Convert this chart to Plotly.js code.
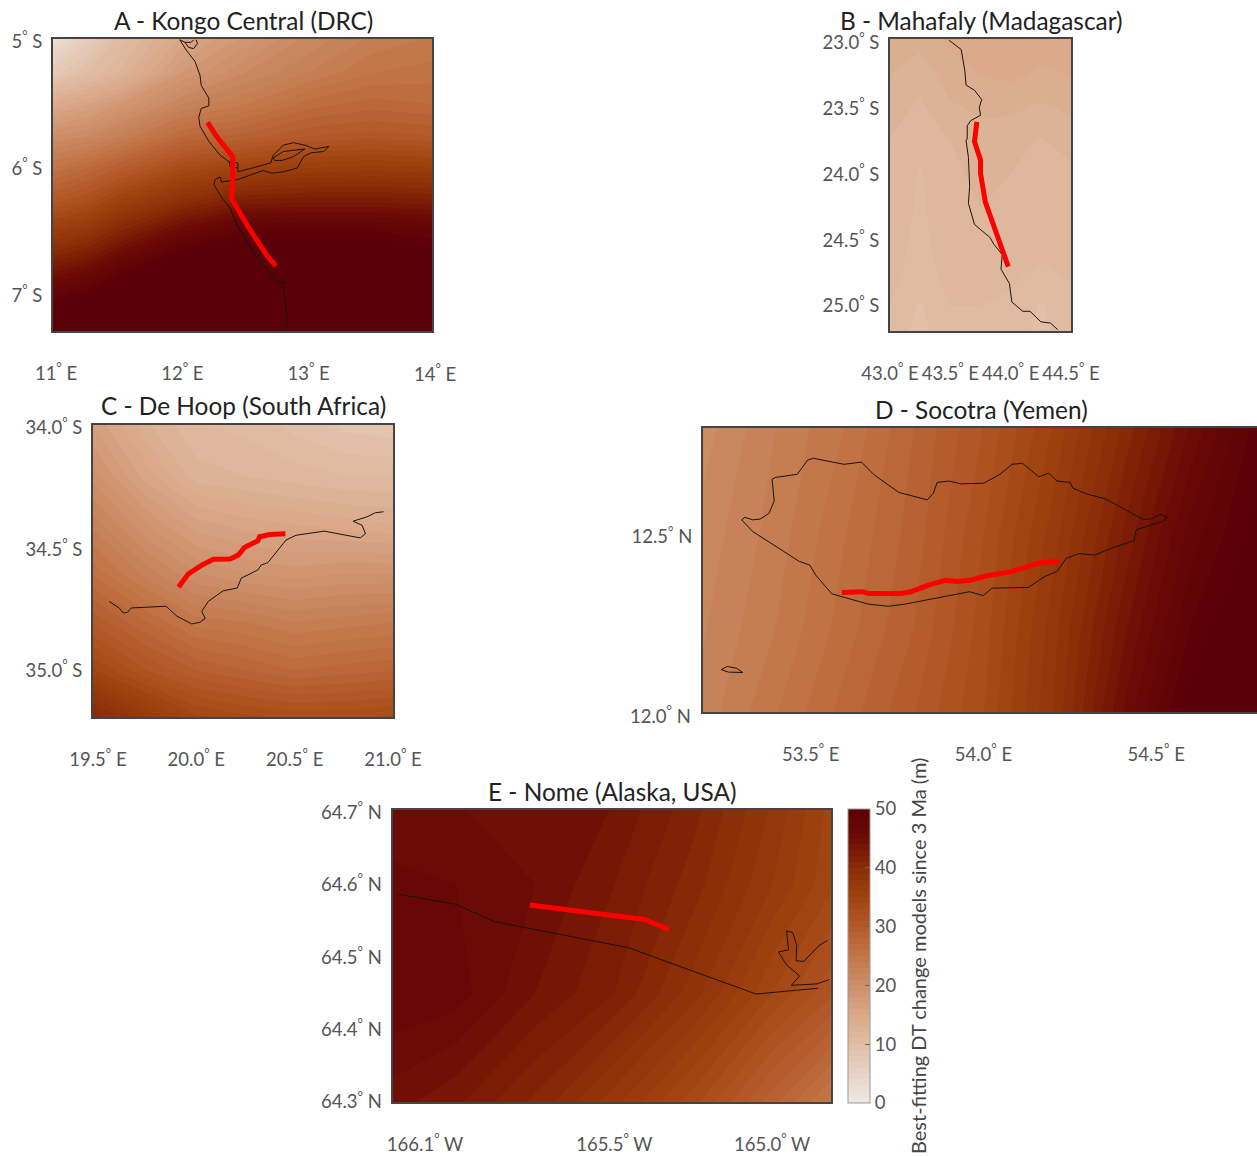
<!DOCTYPE html>
<html><head><meta charset="utf-8">
<script src="https://cdn.plot.ly/plotly-3.0.1.min.js"></script>
<style>html,body{margin:0;padding:0;background:#fff;overflow:hidden}</style>
</head><body><div id="chart" style="width:1257px;height:1156px"></div>
<script>
const colorStops=[[0,'#efe9e4'],[0.1,'#e8d3c5'],[0.2,'#e1bda5'],[0.3,'#d9a888'],[0.4,'#cc8e69'],[0.5,'#c27648'],[0.6,'#b4592a'],[0.7,'#a0420f'],[0.8,'#8a2c06'],[0.9,'#6d0c05'],[1,'#5a0008']];
const cbTicks=[0,10,20,30,40,50];
const cbTitle='Best-fitting DT change models since 3 Ma (m)';

// A - Kongo Central
const titleA='A - Kongo Central (DRC)';
const gridLonA=[10.95,11.25,11.5,12,12.5,13,13.5,14.02];
const gridLatA=[-7.32,-7,-6.75,-6.5,-6.25,-6,-5.75,-5.5,-5.25,-4.95];
const zA=[
[54,55,55,56,56,56,56,56],
[48,50,53,55,55,55,55,54],
[42,44,47,52,54,54,53,52],
[36,38,41,46,49,49,49,48],
[30,32,35,39,42,42.5,42.5,42],
[25,27,29,33,35,36,36.5,36],
[20,21,23,27,28.5,30,30.5,30],
[14,16,18,22,24,26.5,27.5,27],
[7,10,12,18,21,23,25,25.5],
[1,6,10,15,18,21,23,24]];
const coastLonA=[11.98,12.01,12.03,12.10,12.14,12.15,12.21,12.21,12.15,12.13,12.14,12.21,12.30,12.37,12.38,12.44,12.44,12.37,null,
12.44,12.44,12.59,12.70,12.72,12.80,12.88,12.97,13.05,13.16,13.12,13.02,12.96,12.91,12.80,12.71,12.64,12.52,12.44,12.31,12.30,12.26,12.25,12.31,12.38,12.43,12.51,12.59,12.69,12.76,12.81,12.80,12.82,12.83,12.85,null,
12.72,12.80,12.97,12.88,12.79,12.73,12.72,null,
11.98,12.02,12.05,12.09,12.12,12.11,null,12.02,12.07,12.09];
const coastLatA=[-4.99,-5.04,-5.07,-5.16,-5.27,-5.35,-5.45,-5.51,-5.53,-5.60,-5.67,-5.79,-5.90,-5.95,-5.99,-6.00,-5.96,-5.95,null,
-6.00,-6.03,-5.99,-5.96,-5.90,-5.82,-5.80,-5.82,-5.85,-5.83,-5.87,-5.88,-5.91,-6.00,-6.03,-6.04,-6.02,-6.06,-6.09,-6.11,-6.07,-6.09,-6.13,-6.23,-6.32,-6.44,-6.58,-6.71,-6.82,-6.90,-6.90,-6.93,-7.09,-7.24,-7.27,null,
-5.92,-5.87,-5.85,-5.91,-5.94,-5.94,-5.92,null,
-4.99,-5.01,-5.05,-5.06,-5.02,-4.99,null,-5.01,-5.01,-4.99];
const redLonA=[12.20,12.27,12.40,12.40,12.39,12.46,12.52,12.67,12.74];
const redLatA=[-5.64,-5.75,-5.91,-6.07,-6.24,-6.36,-6.46,-6.69,-6.77];
const lonTicksA=[11,12,13], lonLabelsA=['11','12','13'];
const latTicksA=[-5,-6,-7], latLabelsA=['5','6','7'];

// B - Mahafaly
const titleB='B - Mahafaly (Madagascar)';
const gridLonB=[42.98,43.25,43.5,43.75,44,44.25,44.52];
const gridLatB=[-25.22,-25,-24.75,-24.5,-24.25,-24,-23.75,-23.5,-23.25,-22.95];
const zB=[
[10.5,9.7,10.6,10.7,10.5,9.8,10.5],
[11,9.9,11,11,10.8,9.9,10.6],
[11.5,10.4,11.5,11.5,11.2,10.8,11.2],
[11.7,10.6,11.8,11.8,11.6,11.4,11.6],
[11.8,10.8,11.8,12,11.8,11.2,11.6],
[11.8,10.9,11.9,12.1,12,11.6,11.8],
[12,11.2,12,12.6,12.3,11.9,12.4],
[12.5,11.8,12.8,13.2,13.2,12.8,13.2],
[13,12.3,13.6,14,14.2,13.8,14],
[13.5,13.5,14.2,14.5,14.7,14.6,14.6]];
const coastLonB=[43.49,43.59,43.62,43.63,43.70,43.76,43.74,43.75,43.67,43.64,43.64,43.63,43.65,43.66,43.65,43.70,43.83,43.86,43.93,43.92,43.99,44.01,44.10,44.16,44.25,44.33,44.39];
const coastLatB=[-22.98,-23.05,-23.21,-23.32,-23.36,-23.43,-23.49,-23.55,-23.59,-23.63,-23.73,-23.74,-23.87,-24.09,-24.22,-24.38,-24.48,-24.53,-24.61,-24.72,-24.83,-24.97,-25.04,-25.04,-25.12,-25.13,-25.18];
const redLonB=[43.72,43.70,43.75,43.75,43.79,43.86,43.93,43.98];
const redLatB=[-23.60,-23.75,-23.89,-23.99,-24.21,-24.39,-24.56,-24.70];
const lonTicksB=[43,43.5,44,44.5], lonLabelsB=['43.0','43.5','44.0','44.5'];
const latTicksB=[-23,-23.5,-24,-24.5,-25], latLabelsB=['23.0','23.5','24.0','24.5','25.0'];

// C - De Hoop
const titleC='C - De Hoop (South Africa)';
const gridLonC=[19.45,19.75,20,20.25,20.5,20.75,21.05];
const gridLatC=[-35.22,-35,-34.8,-34.6,-34.4,-34.2,-33.97];
const zC=[
[42,38,35,34,33.5,33.5,34],
[34.5,31,29,28,27,27.5,28],
[30,27,24.5,24,23,23.5,24],
[26,22.5,20,19,18.5,19,19],
[23,19,16.5,15.5,15,14.5,14],
[20,15.5,12.5,12,11.5,11,11],
[17,13,11,10.5,9.5,8.5,8]];
const coastLonC=[19.557,19.608,19.629,19.65,19.67,19.846,19.902,19.977,20.019,20.045,20.028,20.061,20.137,20.208,20.229,20.313,20.33,20.364,20.456,20.507,20.65,20.834,20.86,20.843,20.797,20.868,20.91,20.952];
const coastLatC=[-34.716,-34.743,-34.764,-34.761,-34.743,-34.736,-34.777,-34.809,-34.802,-34.786,-34.757,-34.716,-34.672,-34.661,-34.62,-34.586,-34.566,-34.556,-34.463,-34.443,-34.426,-34.454,-34.436,-34.402,-34.385,-34.367,-34.35,-34.346];
const redLonC=[19.91,19.96,20.028,20.087,20.171,20.213,20.246,20.313,20.322,20.372,20.453];
const redLatC=[-34.657,-34.602,-34.566,-34.542,-34.541,-34.525,-34.493,-34.466,-34.449,-34.44,-34.437];
const lonTicksC=[19.5,20,20.5,21], lonLabelsC=['19.5','20.0','20.5','21.0'];
const latTicksC=[-34,-34.5,-35], latLabelsC=['34.0','34.5','35.0'];

// D - Socotra
const titleD='D - Socotra (Yemen)';
const gridLonD=[53.15,53.4,53.6,53.8,54,54.2,54.4,54.6,54.82];
const gridLatD=[11.99,12.25,12.5,12.82];
const zD=[
[22,25,27.5,30,33,38,45,51,55],
[21.5,24,26.5,29,32.5,37.5,43.5,49,53],
[21,23.5,26,28.5,32,36.5,42,47.5,51],
[20,23,25,28,31,35,40,45,50]];
const coastLonD=[53.30,53.332,53.467,53.497,53.514,53.561,53.667,53.725,53.772,53.96,53.999,54.025,54.13,54.178,54.213,54.24,54.277,54.322,54.365,54.436,54.442,54.518,54.533,54.512,54.488,54.462,54.406,54.353,54.301,54.259,54.251,54.213,54.189,54.16,54.113,54.083,54.048,54.001,53.934,53.901,53.866,53.855,53.837,53.755,53.684,53.647,53.596,53.508,53.491,53.461,53.397,53.388,53.394,53.379,53.353,53.332,53.309,53.30,null,
53.241,53.258,53.285,53.303,53.262,53.241];
const coastLatD=[12.548,12.515,12.431,12.421,12.393,12.34,12.311,12.305,12.311,12.346,12.335,12.356,12.358,12.389,12.403,12.44,12.453,12.449,12.466,12.49,12.52,12.543,12.555,12.564,12.551,12.549,12.579,12.607,12.62,12.637,12.653,12.657,12.679,12.669,12.707,12.704,12.676,12.651,12.649,12.657,12.653,12.623,12.604,12.625,12.674,12.71,12.704,12.721,12.716,12.676,12.667,12.662,12.601,12.566,12.55,12.548,12.555,12.548,null,
12.127,12.136,12.131,12.119,12.12,12.127];
const redLonD=[53.59,53.649,53.667,53.761,53.79,53.843,53.89,53.925,53.96,54.007,54.083,54.166,54.221];
const redLatD=[12.344,12.346,12.341,12.341,12.346,12.365,12.378,12.375,12.378,12.39,12.403,12.428,12.431];
const lonTicksD=[53.5,54,54.5], lonLabelsD=['53.5','54.0','54.5'];
const latTicksD=[12.5], latLabelsD=['12.5'];

// E - Nome
const titleE='E - Nome (Alaska, USA)';
const gridLonE=[-166.25,-166,-165.75,-165.5,-165.25,-165,-164.8];
const gridLatE=[64.29,64.45,64.6,64.72];
const zE=[
[44.5,43,40.5,37,33,28,24],
[47,46.5,44,42,38.5,34,31],
[46.5,46,45,43,40.5,37,34],
[45,45,45,44,41.5,38,34.5]];
const coastLonE=[-166.188,-166.003,-165.881,-165.456,-165.051,-164.855,null,-164.819,-164.858,-164.939,-164.913,-164.954,-164.98,-164.948,-164.954,-164.935,-164.922,-164.924,-164.9,-164.851,-164.825];
const coastLatE=[64.587,64.573,64.549,64.513,64.449,64.457,null,64.469,64.463,64.461,64.474,64.489,64.507,64.51,64.536,64.534,64.516,64.495,64.494,64.516,64.523];
const redLonE=[-165.768,-165.662,-165.405,-165.327];
const redLatE=[64.572,64.566,64.552,64.538];
const lonTicksE=[-166.1,-165.5,-165], lonLabelsE=['166.1','165.5','165.0'];
const latTicksE=[64.7,64.6,64.5,64.4,64.3], latLabelsE=['64.7','64.6','64.5','64.4','64.3'];

const W=1257,H=1156;
const tickFont={family:'Lato, sans-serif',size:18.5,color:'#555'};
const titleFont={family:'Lato, sans-serif',size:24.4,color:'#222'};
const frame='#444';
const deg=(s,h)=>s+'<sup>°</sup>\u00A0'+h;
const panels=[
 {n:'',title:titleA,tx:243,ty:20.5,px:[53,432],py:[39,331],xr:[10.976,13.977],yr:[-7.283,-4.984],gx:gridLonA,gy:gridLatA,z:zA,cx:coastLonA,cy:coastLatA,rx:redLonA,ry:redLatA,xt:lonTicksA,xl:lonLabelsA,yt:latTicksA,yl:latLabelsA,e:'E',h:'S'},
 {n:'2',title:titleB,tx:981,ty:20.5,px:[890,1071],py:[39,331],xr:[43.0,44.5],yr:[-25.19,-22.97],gx:gridLonB,gy:gridLatB,z:zB,cx:coastLonB,cy:coastLatB,rx:redLonB,ry:redLatB,xt:lonTicksB,xl:lonLabelsB,yt:latTicksB,yl:latLabelsB,e:'E',h:'S'},
 {n:'3',title:titleC,tx:243,ty:405.5,px:[93,393],py:[425,717],xr:[19.475,21.0],yr:[-35.193,-33.988],gx:gridLonC,gy:gridLatC,z:zC,cx:coastLonC,cy:coastLatC,rx:redLonC,ry:redLatC,xt:lonTicksC,xl:lonLabelsC,yt:latTicksC,yl:latLabelsC,e:'E',h:'S'},
 {n:'4',title:titleD,tx:981,ty:409.5,px:[703,1257],py:[428,712],xr:[53.188,54.792],yr:[12.008,12.806],gx:gridLonD,gy:gridLatD,z:zD,cx:coastLonD,cy:coastLatD,rx:redLonD,ry:redLatD,xt:lonTicksD,xl:lonLabelsD,yt:latTicksD,yl:latLabelsD,e:'E',h:'N',open:true},
 {n:'5',title:titleE,tx:612,ty:791.5,px:[392.5,830.5],py:[810,1102],xr:[-166.203,-164.815],yr:[64.3,64.703],gx:gridLonE,gy:gridLatE,z:zE,cx:coastLonE,cy:coastLatE,rx:redLonE,ry:redLatE,xt:lonTicksE,xl:lonLabelsE,yt:latTicksE,yl:latLabelsE,e:'W',h:'N',cb:true}
];
const traces=[],layout={width:W,height:H,margin:{l:0,r:0,t:0,b:0},paper_bgcolor:'#fff',plot_bgcolor:'#fff',showlegend:false,annotations:[],font:{family:'Lato, sans-serif'}};
panels.forEach(p=>{
  const xa='x'+p.n, ya='y'+p.n;
  const t={type:'contour',x:p.gx,y:p.gy,z:p.z,xaxis:xa,yaxis:ya,colorscale:colorStops,zmin:0,zmax:50,zauto:false,
    autocontour:false,contours:{start:0,end:50,size:1,coloring:'fill',showlines:false},line:{width:0,smoothing:0},hoverinfo:'skip',showscale:!!p.cb};
  if(p.cb){t.colorbar={x:848/W,xanchor:'left',xpad:0,ypad:0,y:1-1103/H,yanchor:'bottom',len:294/H,lenmode:'fraction',thickness:22,thicknessmode:'pixels',
    outlinecolor:'#999',outlinewidth:1,ticks:'inside',ticklen:5,tickcolor:'#666',tickvals:cbTicks,ticktext:cbTicks.map(String),tickfont:{family:'Lato, sans-serif',size:18.5,color:'#555'}};}
  traces.push(t);
  traces.push({type:'scatter',mode:'lines',x:p.cx,y:p.cy,xaxis:xa,yaxis:ya,line:{color:'#1c1209',width:1},hoverinfo:'skip',connectgaps:false});
  traces.push({type:'scatter',mode:'lines',x:p.rx,y:p.ry,xaxis:xa,yaxis:ya,line:{color:'#ff0000',width:5},hoverinfo:'skip'});
  const common={showgrid:false,zeroline:false,showline:true,linecolor:frame,linewidth:2,ticks:'',tickmode:'array',tickfont:tickFont,tickangle:0,automargin:false,fixedrange:true};
  layout['xaxis'+p.n]=Object.assign({},common,{anchor:ya,domain:[p.px[0]/W,p.px[1]/W],range:p.xr,mirror:true,tickvals:p.xt,ticktext:p.xl.map(s=>deg(s,p.e)),ticklabelstandoff:25});
  layout['yaxis'+p.n]=Object.assign({},common,{anchor:xa,domain:[1-p.py[1]/H,1-p.py[0]/H],range:p.yr,mirror:!p.open,tickvals:p.yt,ticktext:p.yl.map(s=>deg(s,p.h)),ticklabelstandoff:5});
  layout.annotations.push({xref:'paper',yref:'paper',x:p.tx/W,y:1-p.ty/H,xanchor:'center',yanchor:'middle',showarrow:false,text:p.title,font:titleFont});
});
// two labels sit just past the end of their axis range in the reference
layout.annotations.push({xref:'paper',yref:'paper',x:435/W,y:1-372/H,xanchor:'center',yanchor:'middle',showarrow:false,text:deg('14','E'),font:tickFont});
layout.annotations.push({xref:'paper',yref:'paper',x:693/W,y:1-714/H,xanchor:'right',yanchor:'middle',showarrow:false,text:deg('12.0','N'),font:tickFont});
layout.annotations.push({xref:'paper',yref:'paper',x:918/W,y:1-956/H,xanchor:'center',yanchor:'middle',textangle:-90,showarrow:false,text:cbTitle,font:{family:'Lato, sans-serif',size:20,color:'#444'}});
Plotly.newPlot('chart',traces,layout,{staticPlot:true,displayModeBar:false});
</script></body></html>
